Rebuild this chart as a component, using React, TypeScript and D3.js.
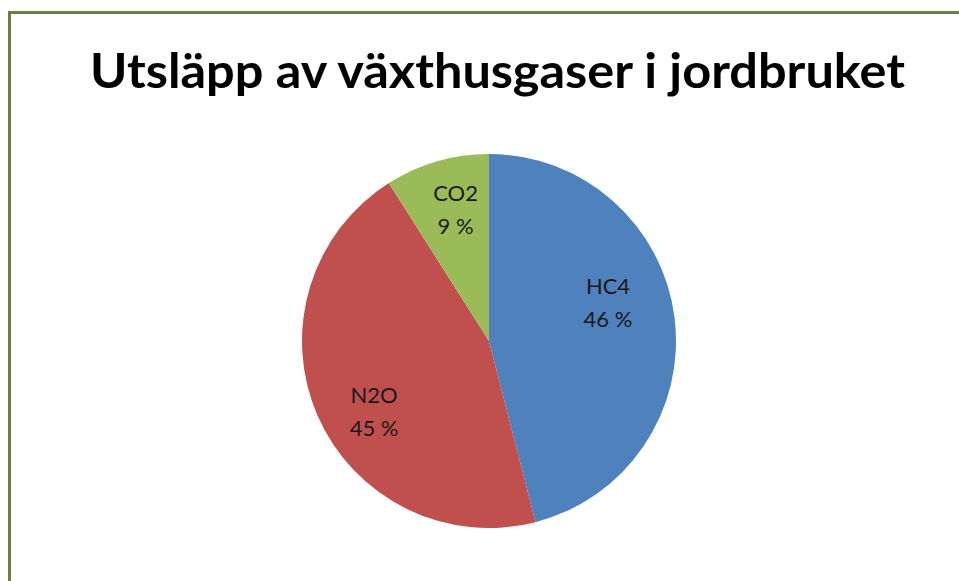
import React from "react";
import * as d3 from "d3";

const categories = ["HC4", "N2O", "CO2"];
const values = [46, 45, 9];
const colors = ["#4F81BD", "#C0504D", "#9BBB59"];
const title = "Utsläpp av växthusgaser i jordbruket";

const W = 959;
const H = 581;

// label placement tweaks (degrees, radius fraction) mimicking Excel best-fit
const labelAngleShift = [-11, -8, 2];
const labelRadius = [0.67, 0.72, 0.73];

export default function App() {
  const cx = 489;
  const cy = 341;
  const r = 187;
  const data = categories.map((c, i) => ({ name: c, value: values[i], color: colors[i] }));
  const pie = d3.pie<any>().value((d: any) => d.value).sort(null);
  const arcs = pie(data);
  const arc = d3.arc<any>().innerRadius(0).outerRadius(r);
  const total = d3.sum(values);

  return (
    <svg
      width={W}
      height={H}
      style={{ position: "absolute", left: 0, top: 0, background: "#ffffff" }}
    >
      <rect x={0} y={0} width={W} height={H} fill="#ffffff" />
      <line x1={9.5} y1={12} x2={9.5} y2={H} stroke="#6a7f45" strokeWidth={3} />
      <line x1={8} y1={12.5} x2={W} y2={12.5} stroke="#6a7f45" strokeWidth={3} />
      <text
        x={90}
        y={88}
        textLength={815}
        lengthAdjust="spacingAndGlyphs"
        fontFamily="Lato, 'Open Sans', sans-serif"
        fontWeight={700}
        fontSize={47}
        fill="#000"
      >
        {title}
      </text>
      <g transform={`translate(${cx},${cy})`}>
        {arcs.map((a, i) => (
          <path key={i} d={arc(a) as string} fill={a.data.color} />
        ))}
        {arcs.map((a, i) => {
          const mid = (a.startAngle + a.endAngle) / 2 + (labelAngleShift[i] * Math.PI) / 180;
          const rr = r * labelRadius[i];
          const lx = rr * Math.sin(mid);
          const ly = -rr * Math.cos(mid);
          const pct = Math.round((a.data.value / total) * 100);
          return (
            <text
              key={"l" + i}
              x={lx}
              y={ly}
              textAnchor="middle"
              fontFamily="Lato, 'Open Sans', sans-serif"
              fontSize={22}
              fill="#1a1a1a"
            >
              <tspan x={lx} dy={-8}>{a.data.name}</tspan>
              <tspan x={lx} dy={33}>{pct} %</tspan>
            </text>
          );
        })}
      </g>
    </svg>
  );
}
